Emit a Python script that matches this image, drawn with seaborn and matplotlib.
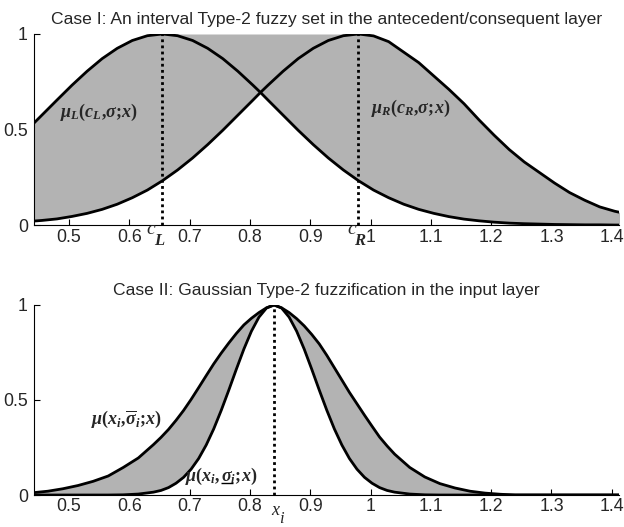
import numpy as np
import pandas as pd
import matplotlib
matplotlib.use('Agg')
import matplotlib.pyplot as plt
import seaborn as sns

# ---------------- data ----------------
# Case I: sample positions and the two Gaussian primary MFs
x_top = [0.430, 0.455, 0.480, 0.505, 0.530, 0.555, 0.580, 0.605, 0.630, 0.655,
         0.680, 0.705, 0.730, 0.755, 0.780, 0.805, 0.8175, 0.830, 0.855, 0.880, 0.905,
         0.930, 0.955, 0.980, 1.005, 1.030, 1.055, 1.080, 1.105, 1.130, 1.155,
         1.180, 1.205, 1.230, 1.255, 1.280, 1.305, 1.330, 1.355, 1.380, 1.405, 1.430]
mu_left = [0.496, 0.575, 0.654, 0.732, 0.805, 0.871, 0.925, 0.966, 0.991, 1.000,
           0.991, 0.966, 0.925, 0.871, 0.805, 0.732, 0.694, 0.654, 0.575, 0.496, 0.421,
           0.351, 0.288, 0.232, 0.183, 0.143, 0.109, 0.082, 0.061, 0.044, 0.031,
           0.022, 0.015, 0.010, 0.007, 0.005, 0.003, 0.002, 0.001, 0.001, 0.000, 0.000]
mu_right = [0.018, 0.024, 0.032, 0.045, 0.061, 0.082, 0.109, 0.143, 0.183, 0.232,
            0.288, 0.351, 0.421, 0.496, 0.575, 0.654, 0.694, 0.732, 0.805, 0.871, 0.925,
            0.966, 0.991, 1.000, 0.990, 0.960, 0.905, 0.850, 0.780, 0.710, 0.635,
            0.550, 0.470, 0.395, 0.330, 0.275, 0.220, 0.170, 0.130, 0.095, 0.072, 0.055]
c_L = 0.655
c_R = 0.980

# Case II: sample positions, wide and narrow Gaussian MFs
x_bot = [0.440, 0.465, 0.490, 0.515, 0.540, 0.565, 0.590, 0.615,
         0.640, 0.6525, 0.665, 0.6775, 0.690, 0.7025, 0.715, 0.7275, 0.740, 0.7525,
         0.765, 0.7775, 0.790, 0.8025, 0.815, 0.8275, 0.840, 0.8525, 0.865, 0.8775,
         0.890, 0.9025, 0.915, 0.9275, 0.940, 0.9525, 0.965, 0.9775, 0.990, 1.0025,
         1.015, 1.0275, 1.040,
         1.065, 1.090, 1.115, 1.140, 1.165, 1.190, 1.215, 1.240, 1.265, 1.290,
         1.315, 1.340, 1.365, 1.390, 1.415, 1.440]
mu_wide = [0.012, 0.020, 0.033, 0.050, 0.072, 0.100, 0.145, 0.195,
           0.265, 0.303, 0.345, 0.393, 0.445, 0.503, 0.565, 0.628, 0.690, 0.747,
           0.800, 0.850, 0.895, 0.930, 0.960, 0.985, 1.000, 0.985, 0.960, 0.928,
           0.890, 0.845, 0.795, 0.735, 0.670, 0.605, 0.540, 0.480, 0.420, 0.362,
           0.305, 0.258, 0.215,
           0.145, 0.095, 0.060, 0.037, 0.020, 0.010, 0.004, 0.0, 0.0, 0.0,
           0.0, 0.0, 0.0, 0.0, 0.0, 0.0]
mu_narrow = [0.0, 0.0, 0.0, 0.0, 0.0, 0.0, 0.001, 0.005,
             0.015, 0.024, 0.039, 0.062, 0.093, 0.136, 0.192, 0.263, 0.348, 0.446,
             0.552, 0.662, 0.768, 0.862, 0.936, 0.984, 1.000, 0.984, 0.936, 0.862,
             0.768, 0.662, 0.552, 0.446, 0.348, 0.263, 0.192, 0.136, 0.093, 0.062,
             0.039, 0.024, 0.015,
             0.005, 0.001, 0.0, 0.0, 0.0, 0.0, 0.0, 0.0, 0.0, 0.0,
             0.0, 0.0, 0.0, 0.0, 0.0, 0.0]
x_i = 0.840

x_ticks = [0.5, 0.6, 0.7, 0.8, 0.9, 1.0, 1.1, 1.2, 1.3, 1.4]
x_ticklabels = ['0.5', '0.6', '0.7', '0.8', '0.9', '1', '1.1', '1.2', '1.3', '1.4']
y_ticks = [0, 0.5, 1]
y_ticklabels = ['0', '0.5', '1']

title_top = 'Case I: An interval Type-2 fuzzy set in the antecedent/consequent layer'
title_bot = 'Case II: Gaussian Type-2 fuzzification in the input layer'

# ---------------- style ----------------
sns.set_style('ticks')
plt.rcParams['font.family'] = ['Liberation Sans', 'DejaVu Sans']
plt.rcParams['mathtext.fontset'] = 'custom'
plt.rcParams['mathtext.it'] = 'Liberation Serif:italic:bold'
plt.rcParams['mathtext.rm'] = 'Liberation Serif:bold'
plt.rcParams['mathtext.bf'] = 'Liberation Serif:bold:italic'

FILL = '#b3b3b3'
LW = 2.0
LAB = 13
SERIF = 'Liberation Serif'

fig = plt.figure(figsize=(6.24, 5.27), dpi=100)
ax1 = fig.add_axes([0.0545, 0.573, 0.9375, 0.3625])
ax2 = fig.add_axes([0.0545, 0.0607, 0.9375, 0.3606])

# ---------------- Case I ----------------
xt = np.array(x_top)
L = np.array(mu_left)
R = np.array(mu_right)
upper = np.where(xt <= c_L, L, np.where(xt >= c_R, R, 1.0))
lower = np.minimum(L, R)
ax1.fill_between(xt, lower, upper, color=FILL, lw=0, zorder=1)
df1 = pd.DataFrame({'x': x_top, 'L': mu_left, 'R': mu_right})
sns.lineplot(data=df1, x='x', y='L', ax=ax1, color='k', lw=LW, estimator=None, sort=False, zorder=3)
sns.lineplot(data=df1, x='x', y='R', ax=ax1, color='k', lw=LW, estimator=None, sort=False, zorder=3)
ax1.vlines([c_L, c_R], 0, 1, colors='k', linestyles=(0, (1, 1.2)), lw=2, zorder=2)

ax1.text(0.485, 0.59, r'$\mu_L(c_L{,}\sigma{;}\!x)$', fontsize=LAB, va='center', ha='left', zorder=4)
ax1.text(1.001, 0.61, r'$\mu_R(c_R{,}\sigma{;}\!x)$', fontsize=LAB, va='center', ha='left', zorder=4)
# c_L and c_R marks under the axis
ax1.text(0.628, 0.02, 'c', family=SERIF, style='italic', fontsize=LAB + 1, va='top', ha='left', clip_on=False)
ax1.text(0.641, -0.04, 'L', family=SERIF, style='italic', weight='bold', fontsize=LAB - 1, va='top', ha='left', clip_on=False)
ax1.text(0.961, 0.02, 'c', family=SERIF, style='italic', fontsize=LAB + 1, va='top', ha='left', clip_on=False)
ax1.text(0.973, -0.04, 'R', family=SERIF, style='italic', weight='bold', fontsize=LAB - 1, va='top', ha='left', clip_on=False)
ax1.set_title(title_top, fontsize=12.6, pad=7)

# ---------------- Case II ----------------
df2 = pd.DataFrame({'x': x_bot, 'wide': mu_wide, 'narrow': mu_narrow})
ax2.fill_between(df2['x'], df2['narrow'], df2['wide'], color=FILL, lw=0, zorder=1)
sns.lineplot(data=df2, x='x', y='wide', ax=ax2, color='k', lw=LW, estimator=None, sort=False, zorder=3)
sns.lineplot(data=df2, x='x', y='narrow', ax=ax2, color='k', lw=LW, estimator=None, sort=False, zorder=3)
ax2.vlines([x_i], 0, 1, colors='k', linestyles=(0, (1, 1.2)), lw=2, zorder=2)

ax2.text(0.537, 0.40, r'$\mu(x_i{,}\overline{\sigma}_i{;}\!x)$', fontsize=LAB, va='center', ha='left', zorder=4)
ax2.text(0.836, -0.035, 'x', family=SERIF, style='italic', fontsize=LAB, va='top', ha='left', clip_on=False)
ax2.text(0.849, -0.085, 'i', family=SERIF, style='italic', fontsize=LAB - 1, va='top', ha='left', clip_on=False)
ax2.set_title(title_bot, fontsize=12.6, pad=7)

for ax in (ax1, ax2):
    ax.set_xlim(0.442, 1.412)
    ax.set_ylim(0, 1)
    ax.set_xticks(x_ticks)
    ax.set_xticklabels(x_ticklabels)
    ax.set_yticks(y_ticks)
    ax.set_yticklabels(y_ticklabels)
    ax.set_xlabel('')
    ax.set_ylabel('')
    ax.tick_params(direction='in', length=4.5, width=0.8, labelsize=12.8, color='k')
    ax.tick_params(axis='x', pad=2.5)
    ax.tick_params(axis='y', pad=4.5)
    sns.despine(ax=ax)
    for s in ('left', 'bottom'):
        ax.spines[s].set_color('k')
        ax.spines[s].set_linewidth(0.8)

# lower-sigma label with an underlined sigma, assembled from measured pieces
fig.canvas.draw()
rend = fig.canvas.get_renderer()
inv = ax2.transData.inverted()
y_base = 0.075
p1 = ax2.text(0.692, y_base, r'$\mu(x_i{,}$', fontsize=LAB, va='baseline', ha='left', zorder=4)
b1 = p1.get_window_extent(rend)
x2 = inv.transform((b1.x1 + 0.5, 0))[0]
p2 = ax2.text(x2, y_base, r'$\sigma_i{;}\!x)$', fontsize=LAB, va='baseline', ha='left', zorder=4)
probe = ax2.text(x2, y_base, r'$\sigma$', fontsize=LAB, va='baseline', ha='left')
bs = probe.get_window_extent(rend)
probe.remove()
base_disp = ax2.transData.transform((x2, y_base))
yl = inv.transform((0, base_disp[1] - 2.5))[1]
xl0 = inv.transform((bs.x0 + 0.5, 0))[0]
xl1 = inv.transform((bs.x1, 0))[0]
ax2.plot([xl0, xl1], [yl, yl], color='k', lw=1.0, zorder=4, solid_capstyle='butt')

fig.savefig('out.png', dpi=100)
